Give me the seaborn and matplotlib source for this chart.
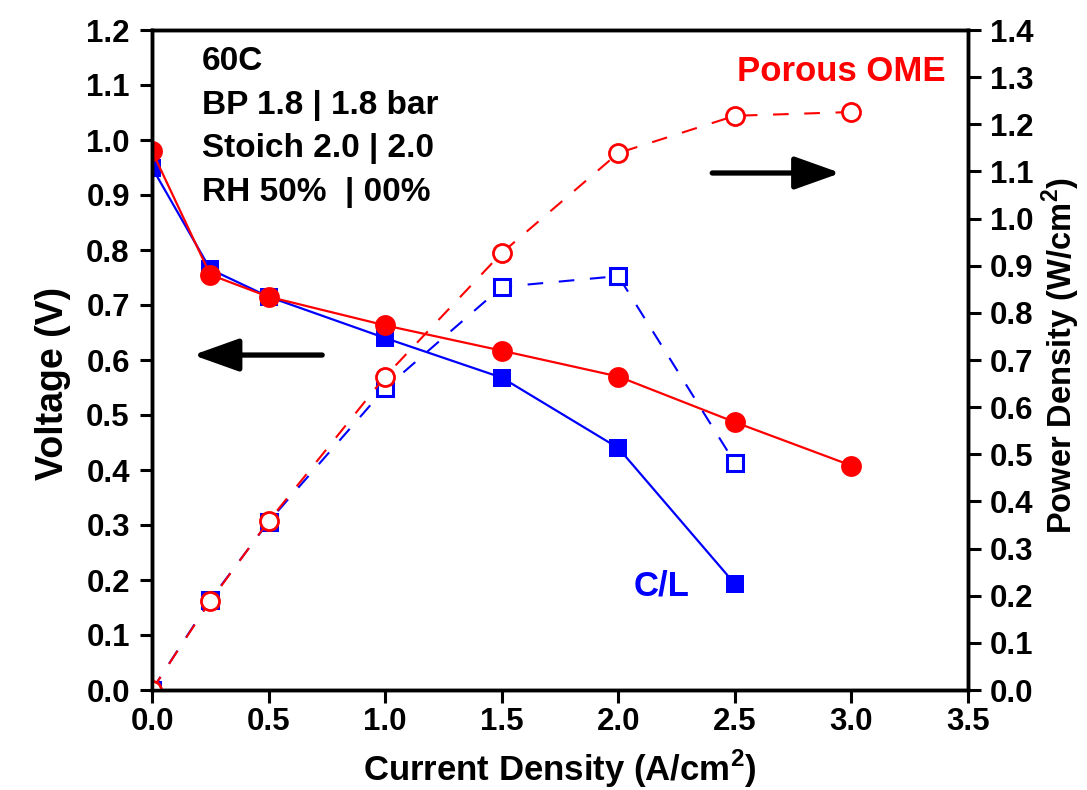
import matplotlib
matplotlib.use("Agg")
import matplotlib.pyplot as plt
import seaborn as sns
import pandas as pd

# ---- data ----
current_ome = [0.0, 0.25, 0.5, 1.0, 1.5, 2.0, 2.5, 3.0]
voltage_ome = [0.98, 0.755, 0.715, 0.663, 0.617, 0.570, 0.487, 0.408]
power_ome = [0.0, 0.189, 0.358, 0.665, 0.927, 1.139, 1.218, 1.226]

current_cl = [0.0, 0.25, 0.5, 1.0, 1.5, 2.0, 2.5]
voltage_cl = [0.95, 0.765, 0.715, 0.640, 0.568, 0.440, 0.193]
power_cl = [0.0, 0.191, 0.357, 0.640, 0.855, 0.878, 0.482]

x_ticks = [0.0, 0.5, 1.0, 1.5, 2.0, 2.5, 3.0, 3.5]
v_ticks = [0.0, 0.1, 0.2, 0.3, 0.4, 0.5, 0.6, 0.7, 0.8, 0.9, 1.0, 1.1, 1.2]
p_ticks = [0.0, 0.1, 0.2, 0.3, 0.4, 0.5, 0.6, 0.7, 0.8, 0.9, 1.0, 1.1, 1.2, 1.3, 1.4]
conditions = ["60C", "BP 1.8 | 1.8 bar", "Stoich 2.0 | 2.0", "RH 50%  | 00%"]

sns.set_style("ticks")
plt.rcParams['font.family'] = ['Liberation Sans', 'DejaVu Sans']
plt.rcParams['font.weight'] = 'bold'
plt.rcParams['axes.labelweight'] = 'bold'
plt.rcParams['text.color'] = 'black'
plt.rcParams['axes.labelcolor'] = 'black'
plt.rcParams['xtick.color'] = 'black'
plt.rcParams['ytick.color'] = 'black'
plt.rcParams['axes.edgecolor'] = 'black'
plt.rcParams['mathtext.fontset'] = 'custom'
plt.rcParams['mathtext.bf'] = 'Liberation Sans:bold'
plt.rcParams['mathtext.rm'] = 'Liberation Sans:bold'

RED = "#ff0000"
BLUE = "#0000ff"

fig = plt.figure(figsize=(10.87, 7.90), dpi=100)
ax = fig.add_axes([152/1087, 1-690/790, (968-152)/1087, (690-30)/790])
ax2 = ax.twinx()

df_ome = pd.DataFrame({"I": current_ome, "V": voltage_ome, "P": power_ome})
df_cl = pd.DataFrame({"I": current_cl, "V": voltage_cl, "P": power_cl})

DASH = (0, (7.5, 7.5))

# voltage curves (left axis)
sns.lineplot(data=df_cl, x="I", y="V", ax=ax, sort=False, errorbar=None,
             color=BLUE, lw=1.6, marker="s", markersize=12.5, markeredgewidth=0,
             markerfacecolor=BLUE)
sns.lineplot(data=df_ome, x="I", y="V", ax=ax, sort=False, errorbar=None,
             color=RED, lw=1.6, marker="o", markersize=15, markeredgewidth=0,
             markerfacecolor=RED)

# power curves (right axis)
sns.lineplot(data=df_cl, x="I", y="P", ax=ax2, sort=False, errorbar=None,
             color=BLUE, lw=1.5, linestyle=DASH, marker="s", markersize=11.5,
             markeredgewidth=2.2, markerfacecolor="white", markeredgecolor=BLUE)
sns.lineplot(data=df_ome, x="I", y="P", ax=ax2, sort=False, errorbar=None,
             color=RED, lw=1.5, linestyle=DASH, marker="o", markersize=13,
             markeredgewidth=2.0, markerfacecolor="white", markeredgecolor=RED)

ax.set_xlim(0, 3.5)
ax.set_ylim(0, 1.2)
ax2.set_ylim(0, 1.4)
ax.set_xticks(x_ticks)
ax.set_xticklabels([f"{t:.1f}" for t in x_ticks])
ax.set_yticks(v_ticks)
ax.set_yticklabels([f"{t:.1f}" for t in v_ticks])
ax2.set_yticks(p_ticks)
ax2.set_yticklabels([f"{t:.1f}" for t in p_ticks])

ax.set_xlabel("Current Density (A/cm$^{2}$)", fontsize=25, fontweight='bold', labelpad=8)
ax.set_ylabel("Voltage (V)", fontsize=27, fontweight='bold')
ax2.set_ylabel("Power Density (W/cm$^{2}$)", fontsize=23.5, fontweight='bold')
ax.yaxis.set_label_coords(-0.099, 0.465)
ax2.yaxis.set_label_coords(1.088, 0.507)

for a in (ax, ax2):
    for s in a.spines.values():
        s.set_linewidth(2.5)
        s.set_visible(True)
    a.tick_params(labelsize=22.5, width=2.2, length=9, direction='out')
ax.tick_params(axis='x', pad=3)
ax.tick_params(axis='y', pad=7)
ax2.tick_params(axis='y', pad=7)
for lab in ax.get_xticklabels() + ax.get_yticklabels() + ax2.get_yticklabels():
    lab.set_fontweight('bold')

# condition text
for i, t in enumerate(conditions):
    ax.text(0.215, 1.142 - i * 0.079, t, fontsize=24, fontweight='bold', color='black',
            ha='left', va='center')

ax.text(2.51, 1.124, "Porous OME", fontsize=25, fontweight='bold', color=RED, ha='left', va='center')
ax.text(2.064, 0.19, "C/L", fontsize=25, fontweight='bold', color=BLUE, ha='left', va='center')

# arrows
arrow_kw = dict(arrowstyle='-|>,head_length=1.4,head_width=0.5', lw=3.8, color='black',
                shrinkA=0, shrinkB=0, mutation_scale=20, capstyle='round')
ax.annotate("", xy=(0.176, 0.609), xytext=(0.73, 0.609), arrowprops=arrow_kw)
ax.annotate("", xy=(2.953, 0.940), xytext=(2.403, 0.940), arrowprops=arrow_kw)

fig.savefig("out.png", dpi=100)
